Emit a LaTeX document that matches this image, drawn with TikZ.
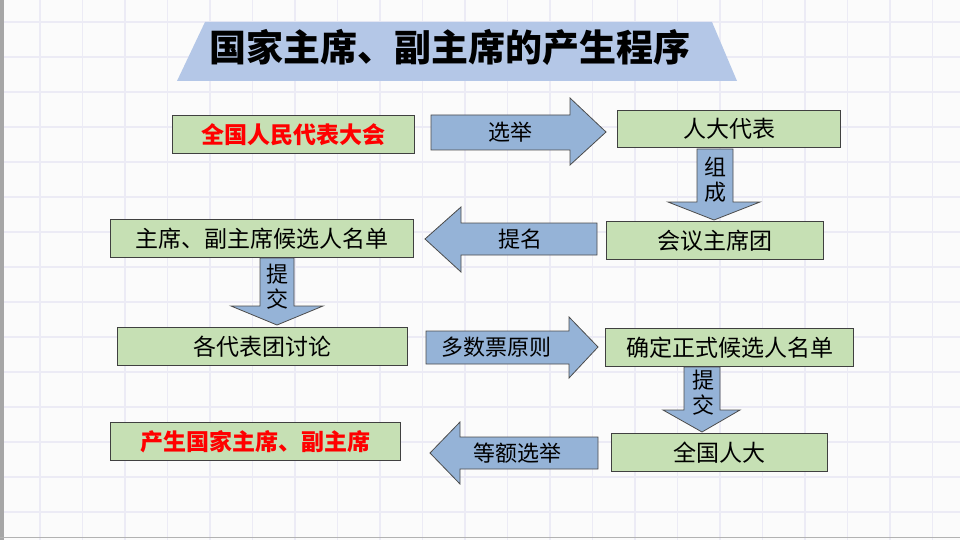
\documentclass[tikz,border=0pt]{standalone}
\usepackage{fontspec}
\newfontfamily\cjk{Noto Sans CJK SC}
\definecolor{gridc}{HTML}{ECEBF5}
\definecolor{boxg}{HTML}{C6E0B4}
\definecolor{arrb}{HTML}{95B3D7}
\definecolor{titleb}{HTML}{B4C7E7}
\tikzset{
  stepbox/.style={draw=black!75, line width=1pt, fill=boxg, anchor=north west, inner sep=0pt,
    font=\cjk\fontsize{23}{23}\selectfont},
  redtext/.style={text=red, font=\cjk\bfseries\fontsize{23}{23}\selectfont},
  blockarrow/.style={draw=black!70, line width=0.8pt, fill=arrb},
  arrowtext/.style={font=\cjk\fontsize{22}{25}\selectfont, align=center, inner sep=0pt}
}
\begin{document}
\begin{tikzpicture}[x=1pt,y=-1pt]
  \useasboundingbox (0,0) rectangle (960,540);
  \fill[white!97!gray] (0,0) rectangle (960,540);
  % grid
  \foreach \u in {0,...,21}{
    \draw[gridc, line width=1.2pt] (40+42.5*\u,0) -- (40+42.5*\u,540);
  }
  \foreach \v in {0,...,15}{
    \draw[gridc, line width=1.2pt] (0,22+35*\v) -- (960,22+35*\v);
  }
  \fill[gray!70] (0,0) rectangle (4,540);
  \draw[gray!60] (0,537) -- (960,537);
  % title
  \fill[titleb] (205,22) -- (712,22) -- (737,81) -- (177,81) -- cycle;
  \node[font=\cjk\bfseries\fontsize{37}{37}\selectfont] (title) at (450,47) {国家主席、副主席的产生程序};
  % boxes
  \node[stepbox, minimum width=242, minimum height=38, redtext] (npc) at (172,115) {全国人民代表大会};
  \node[stepbox, minimum width=223, minimum height=37] (deputy) at (617,110) {人大代表};
  \node[stepbox, minimum width=217, minimum height=38] (presidium) at (606,221) {会议主席团};
  \node[stepbox, minimum width=303, minimum height=38] (nominees) at (110,219) {主席、副主席候选人名单};
  \node[stepbox, minimum width=290, minimum height=38] (groups) at (117,327) {各代表团讨论};
  \node[stepbox, minimum width=248, minimum height=38] (formal) at (605,328) {确定正式候选人名单};
  \node[stepbox, minimum width=216, minimum height=38] (congress) at (611,433) {全国人大};
  \node[stepbox, minimum width=290, minimum height=38, redtext] (result) at (110,422) {产生国家主席、副主席};
  % arrows
  \draw[blockarrow] (431,115) -- (570,115) -- (570,98) -- (606,132) -- (570,165) -- (570,150) -- (431,150) -- cycle;
  \node[arrowtext] (elect) at (510,132) {选举};
  \draw[blockarrow] (697,149) -- (733,149) -- (733,202) -- (760,202) -- (714,220) -- (668,202) -- (697,202) -- cycle;
  \node[arrowtext] (form) at (715,180) {组\\成};
  \draw[blockarrow] (597,223) -- (461,223) -- (461,207) -- (425,239) -- (461,272) -- (461,255) -- (597,255) -- cycle;
  \node[arrowtext] (nominate) at (520,239) {提名};
  \draw[blockarrow] (260,258) -- (294,258) -- (294,306) -- (323,306) -- (277,325) -- (231,306) -- (260,306) -- cycle;
  \node[arrowtext] (submitA) at (277,287) {提\\交};
  \draw[blockarrow] (426,331) -- (569,331) -- (569,317) -- (598,347) -- (569,378) -- (569,364) -- (426,364) -- cycle;
  \node[arrowtext] (majority) at (496,347) {多数票原则};
  \draw[blockarrow] (684,367) -- (720,367) -- (720,410) -- (740,410) -- (702,432) -- (663,410) -- (684,410) -- cycle;
  \node[arrowtext] (submitB) at (703,393) {提\\交};
  \draw[blockarrow] (598,437) -- (460,437) -- (460,422) -- (430,453) -- (460,484) -- (460,469) -- (598,469) -- cycle;
  \node[arrowtext] (equal) at (517,453) {等额选举};
\end{tikzpicture}
\end{document}
